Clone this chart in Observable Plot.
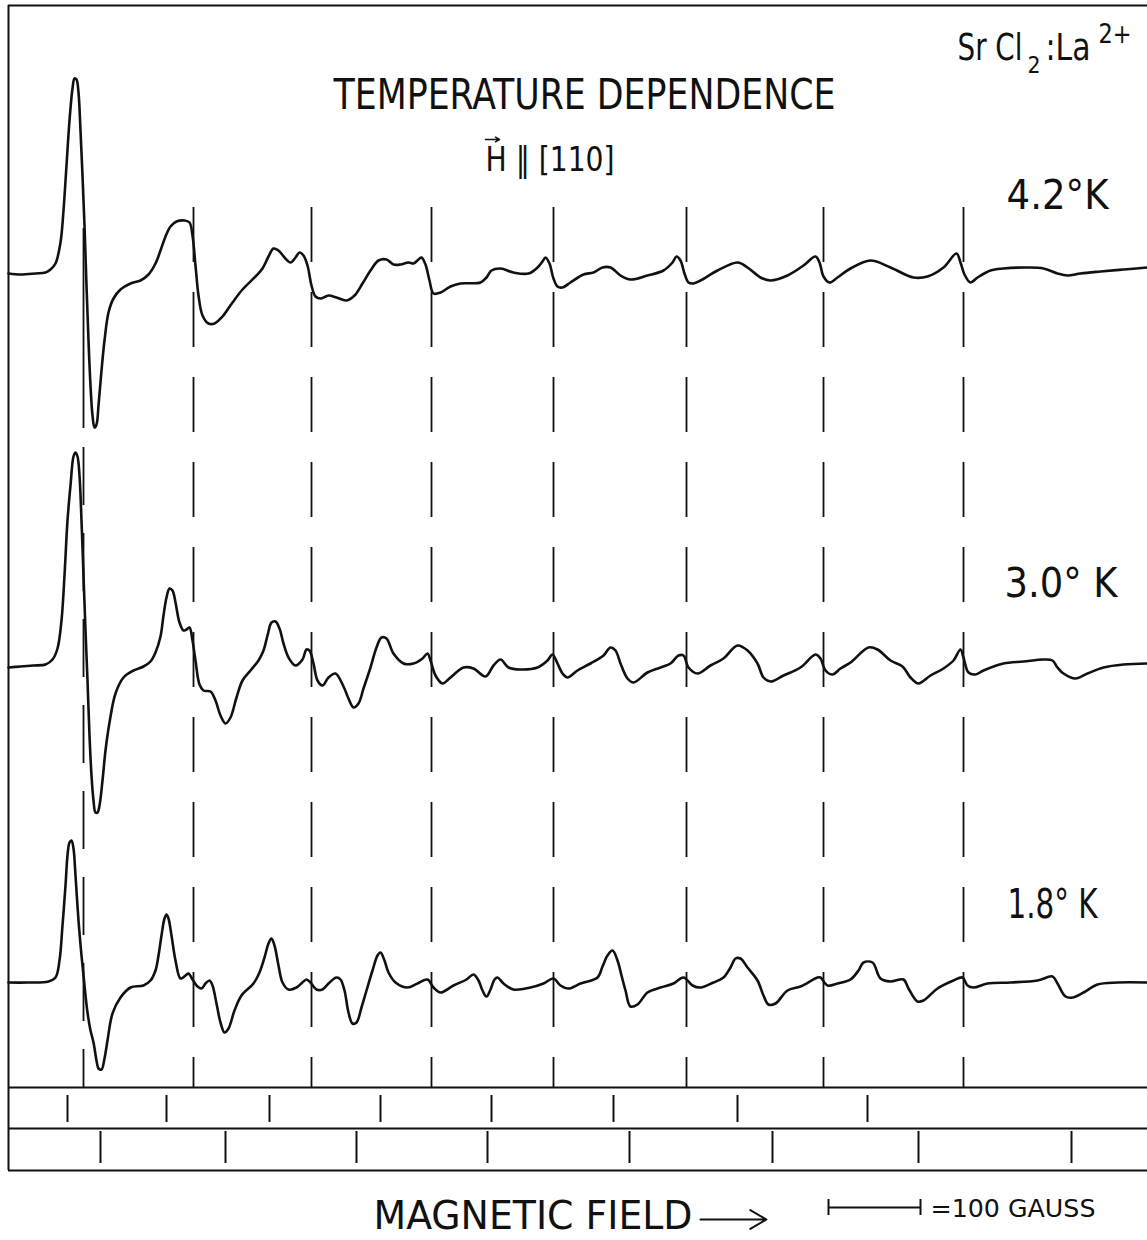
<!DOCTYPE html>
<html><head><meta charset="utf-8">
<script src="https://cdn.jsdelivr.net/npm/d3@7"></script>
<script src="https://cdn.jsdelivr.net/npm/@observablehq/plot@0.6"></script>
<style>
html,body{margin:0;padding:0;background:#fff;}
#chart svg{display:block;}
</style></head><body><div id="chart"></div>
<script>
// ---- DATA (field in chart units; 92 units = 100 gauss; signal = derivative amplitude) ----
const trace42 = [[8,-1],[20,-2],[35,-1],[45,0],[50,3],[55,9],[60,30],[63,62],[66,107],[69,152],[72,184],[74,194],[76,193],[78,180],[80,142],[82,97],[84,47],[86,-13],[88,-68],[90,-113],[92,-143],[94,-155],[96,-152],[98,-133],[101,-98],[104,-68],[108,-40],[113,-26],[120,-17],[130,-11],[140,-8],[148,-2],[155,9],[160,22],[165,36],[170,46],[176,51],[184,52],[189,50],[192,37],[195,7],[198,-23],[202,-43],[208,-51],[214,-51],[222,-44],[232,-30],[242,-17],[255,-4],[262,4],[268,16],[273,24],[278,22],[284,15],[290,10],[295,15],[299,20],[303,17],[307,7],[311,-13],[315,-24],[320,-26],[328,-23],[336,-25],[346,-28],[354,-23],[362,-11],[370,2],[378,12],[386,13],[393,8],[400,8],[408,10],[413,9],[418,13],[421,15],[425,8],[429,-8],[433,-21],[440,-20],[450,-14],[460,-11],[480,-10],[486,-5],[491,2],[500,4],[513,0],[528,-1],[537,5],[542,11],[545,15],[549,9],[553,-6],[557,-14],[562,-15],[570,-10],[583,-2],[593,0],[602,5],[610,5],[620,-3],[630,-7],[647,-3],[663,2],[672,10],[676,16],[680,12],[684,-1],[688,-10],[693,-11],[700,-8],[717,2],[737,10],[747,5],[760,-5],[770,-8],[787,-3],[803,7],[815,16],[819,10],[823,-4],[829,-10],[837,-5],[850,4],[870,12],[890,5],[913,-5],[927,-4],[943,5],[956,19],[960,10],[964,-2],[970,-10],[977,-5],[990,2],[1003,4],[1027,5],[1043,4],[1057,-1],[1067,-3],[1080,-1],[1100,1],[1123,3],[1147,5]];

const trace30 = [[8,-2],[20,-1],[33,0],[45,1],[52,6],[57,17],[61,45],[64,90],[67,145],[70,180],[73,209],[75,213],[77,209],[79,190],[81,145],[83,90],[85,35],[87,-15],[89,-70],[91,-110],[93,-135],[95,-147],[97,-147],[99,-140],[102,-115],[105,-85],[109,-57],[115,-28],[123,-12],[133,-5],[143,-1],[150,4],[155,13],[160,29],[163,50],[166,68],[169,77],[172,75],[175,63],[179,43],[183,35],[186,36],[189,38],[192,25],[195,5],[199,-19],[203,-25],[210,-26],[215,-35],[220,-50],[225,-58],[230,-52],[236,-32],[242,-15],[250,-5],[258,5],[263,15],[267,30],[271,43],[275,44],[279,37],[283,22],[288,8],[295,0],[302,6],[306,16],[309,15],[313,2],[317,-15],[322,-20],[328,-12],[335,-8],[343,-21],[348,-33],[353,-42],[358,-38],[363,-23],[370,-2],[376,18],[381,28],[386,27],[393,12],[403,2],[413,2],[422,7],[427,12],[430,5],[435,-10],[442,-18],[450,-12],[463,-2],[473,-3],[485,-11],[493,0],[500,6],[508,-2],[520,-4],[537,-2],[547,5],[552,11],[557,2],[562,-8],[567,-12],[577,-5],[590,2],[603,10],[610,18],[615,15],[620,2],[627,-13],[633,-17],[647,-7],[660,-2],[670,2],[678,10],[683,10],[688,-2],[697,-8],[710,0],[723,7],[737,20],[747,15],[757,2],[763,-12],[770,-16],[783,-10],[800,-2],[815,11],[820,7],[825,-5],[832,-9],[840,-3],[850,3],[868,18],[877,16],[890,5],[902,-1],[910,-12],[918,-18],[930,-10],[943,-3],[953,5],[960,16],[963,8],[968,-7],[975,-9],[983,-5],[1003,2],[1023,4],[1043,6],[1052,5],[1057,-2],[1063,-8],[1075,-13],[1087,-8],[1103,-2],[1123,1],[1147,2]];

const trace18 = [[8,0],[27,0],[48,1],[55,5],[59,22],[62,57],[65,97],[67,127],[69,140],[71,142],[73,134],[75,107],[78,62],[81,27],[84,-3],[87,-30],[90,-48],[93,-60],[96,-78],[98,-86],[101,-87],[104,-76],[107,-58],[112,-31],[120,-15],[130,-5],[143,-3],[150,2],[155,12],[158,27],[161,47],[164,64],[166,68],[168,64],[171,47],[175,22],[180,4],[185,7],[188,9],[192,3],[197,-4],[201,-6],[205,-1],[209,2],[212,-3],[216,-21],[220,-40],[224,-50],[228,-46],[234,-28],[241,-13],[253,-1],[259,10],[264,25],[268,39],[271,44],[274,37],[278,17],[282,0],[288,-7],[296,-5],[303,1],[306,3],[310,0],[316,-7],[322,-7],[328,-1],[336,5],[340,3],[344,-8],[348,-30],[352,-41],[356,-40],[361,-25],[366,-8],[372,12],[377,27],[380,30],[384,22],[388,10],[395,0],[407,-5],[417,-1],[427,3],[433,-5],[440,-10],[453,-3],[466,3],[473,8],[478,2],[482,-8],[486,-14],[490,-7],[494,3],[497,5],[503,-1],[513,-7],[530,-5],[543,-1],[553,4],[560,-3],[568,-6],[580,-1],[597,5],[602,16],[607,27],[612,32],[617,22],[621,7],[625,-8],[630,-24],[637,-22],[647,-10],[660,-5],[673,-1],[683,5],[692,-3],[700,-5],[713,0],[723,5],[730,15],[735,24],[740,24],[747,15],[757,2],[763,-13],[768,-22],[775,-21],[787,-8],[800,-4],[817,5],[820,5],[827,-3],[837,-1],[850,3],[858,12],[863,20],[872,20],[880,4],[890,1],[903,3],[908,-6],[917,-19],[923,-18],[937,-6],[953,2],[962,5],[967,-3],[973,-5],[987,-1],[1010,0],[1037,2],[1052,6],[1057,-1],[1065,-14],[1072,-15],[1083,-10],[1097,-2],[1117,0],[1147,0]];

const temperatures = ["4.2°K", "3.0° K", "1.8° K"];
const dashedFields = [83, 193, 311, 431, 553, 686, 823, 963];
const upperMarkers = [67, 166, 269, 380, 491, 613, 737, 867];
const lowerMarkers = [100, 225, 356, 487, 629, 772, 918, 1071];
const scaleBar = [828, 920]; // 100 gauss
const titleText = "TEMPERATURE DEPENDENCE";
const orientText = "H ‖ [110]";
const formulaParts = ["Sr Cl", "2", ":La", "2+"]; // SrCl₂:La²⁺
const xLabel = "MAGNETIC FIELD";
const scaleLabel = "=100 GAUSS";

// ---- LAYOUT ----
const W = 1147, H = 1240;
const level42 = 968, level30 = 575, level18 = 258; // trace baselines (vertical units)
const FONT = '"Liberation Sans Narrow","DejaVu Sans Condensed","DejaVu Sans",sans-serif';
const ink = "#111";

const lineOpts = (lvl) => ({x: d => d[0], y: d => lvl + d[1], curve: "catmull-rom", stroke: ink, strokeWidth: 2.6, strokeLinejoin: "round", strokeLinecap: "round"});
const txt = (s, o) => Plot.text([s], {text: d => d, fill: ink, fontFamily: FONT, lineAnchor: "middle", ...o});

const chart = Plot.plot({
  width: W, height: H, margin: 0,
  x: {domain: [0, W], axis: null},
  y: {domain: [0, H], axis: null},
  style: {background: "white", fontFamily: FONT},
  marks: [
    // frame
    Plot.ruleX([8], {y1: 70, y2: 1235, stroke: ink, strokeWidth: 2}),
    Plot.ruleY([1235, 153, 112, 70], {x1: 8, x2: W, stroke: ink, strokeWidth: 2}),
    // dashed reference lines
    Plot.ruleX(dashedFields.slice(0, 1), {y1: 1012, y2: 812, stroke: ink, strokeWidth: 1.8}),
    Plot.ruleX(dashedFields.slice(0, 1), {y1: 793, y2: 153, stroke: ink, strokeWidth: 1.8, strokeDasharray: "58,28"}),
    Plot.ruleX(dashedFields.slice(1), {y1: 1033, y2: 153, stroke: ink, strokeWidth: 1.8, strokeDasharray: "55,30"}),
    // marker rows
    Plot.ruleX(upperMarkers, {y1: 145, y2: 118, stroke: ink, strokeWidth: 2}),
    Plot.ruleX(lowerMarkers, {y1: 109, y2: 77, stroke: ink, strokeWidth: 2}),
    // traces
    Plot.line(trace42, lineOpts(level42)),
    Plot.line(trace30, lineOpts(level30)),
    Plot.line(trace18, lineOpts(level18)),
    // labels
    txt(titleText, {x: 333, y: 1145, textAnchor: "start", fontSize: 42}),
    txt(orientText, {x: 485, y: 1080, textAnchor: "start", fontSize: 34}),
    Plot.arrow([0], {x1: 485, x2: 499, y1: 1101, y2: 1101, stroke: ink, strokeWidth: 1.5, headLength: 6, bend: false}),
    txt(formulaParts.join(""), {x: 957, y: 1193, textAnchor: "start", fontSize: 38}),
    txt(temperatures[0], {x: 1006, y: 1044, textAnchor: "start", fontSize: 40}),
    txt(temperatures[1], {x: 1004, y: 656, textAnchor: "start", fontSize: 40}),
    txt(temperatures[2], {x: 1007, y: 335, textAnchor: "start", fontSize: 40}),
    txt(xLabel, {x: 373, y: 24, textAnchor: "start", fontSize: 39}),
    Plot.arrow([0], {x1: 700, x2: 766, y1: 21, y2: 21, stroke: ink, strokeWidth: 2, headLength: 14, bend: false}),
    Plot.ruleY([33], {x1: scaleBar[0], x2: scaleBar[1], stroke: ink, strokeWidth: 2}),
    Plot.ruleX(scaleBar, {y1: 41, y2: 25, stroke: ink, strokeWidth: 2}),
    txt(scaleLabel, {x: 930, y: 32, textAnchor: "start", fontSize: 25})
  ]
});

// fit label widths to the original lettering
const fits = new Map([
  [titleText, 502], [orientText, 129],
  [temperatures[0], 102], [temperatures[1], 113], [temperatures[2], 90],
  [xLabel, 319], [scaleLabel, 165]
]);
chart.querySelectorAll("text").forEach(t => {
  const w = fits.get(t.textContent);
  if (w) { t.setAttribute("textLength", w); t.setAttribute("lengthAdjust", "spacingAndGlyphs"); }
  if (t.textContent === formulaParts.join("")) {
    // rebuild as one text element with subscript / superscript tspans
    t.textContent = "";
    const NS = "http://www.w3.org/2000/svg";
    const spec = [
      {s: formulaParts[0], x: 0, dy: 0, fs: 38, w: 65},
      {s: formulaParts[1], x: 70, dy: 13, fs: 23, w: 13},
      {s: formulaParts[2], x: 88, dy: -13, fs: 38, w: 45},
      {s: formulaParts[3], x: 141, dy: -17, fs: 26, w: 33}
    ];
    spec.forEach(p => {
      const ts = document.createElementNS(NS, "tspan");
      ts.setAttribute("x", p.x);
      ts.setAttribute("dy", p.dy);
      ts.setAttribute("font-size", p.fs);
      ts.setAttribute("textLength", p.w);
      ts.setAttribute("lengthAdjust", "spacingAndGlyphs");
      ts.textContent = p.s;
      t.appendChild(ts);
    });
  }
});
document.getElementById("chart").appendChild(chart);
</script></body></html>
